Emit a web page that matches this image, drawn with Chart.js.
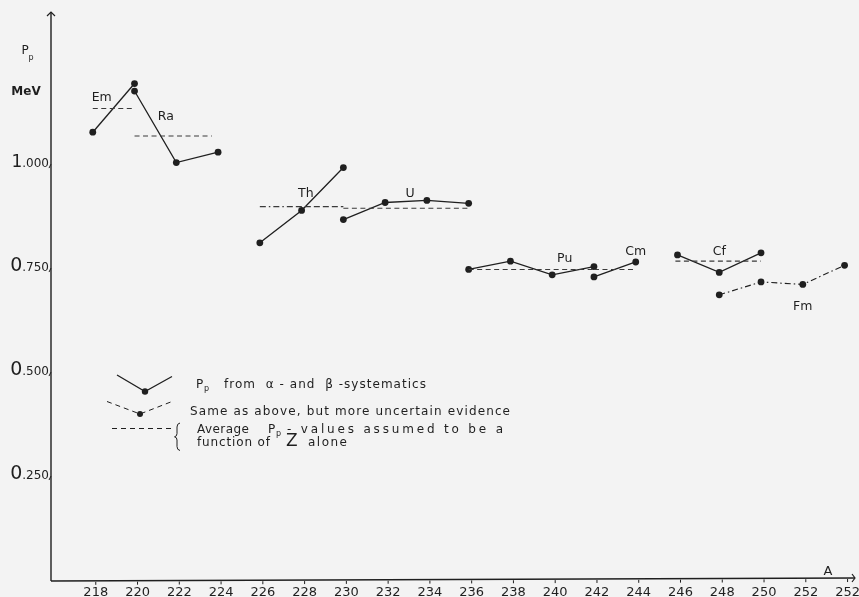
<!DOCTYPE html>
<html>
<head>
<meta charset="utf-8">
<script src="https://cdn.jsdelivr.net/npm/chart.js@4/dist/chart.umd.min.js"></script>
<style>
  html, body { margin: 0; padding: 0; background: #f3f3f3; }
  canvas { display: block; }
</style>
</head>
<body>
<canvas id="chart" width="859" height="597"></canvas>
<script>
// Pairing energy P_p (MeV) against mass number A

// Measured values, from alpha- and beta-systematics (solid lines)
const emA = [218, 220];            const emP = [1.079, 1.196];
const raA = [220, 222, 224];       const raP = [1.178, 1.006, 1.031];
const thA = [226, 228, 230];       const thP = [0.813, 0.891, 0.994];
const uA  = [230, 232, 234, 236];  const uP  = [0.869, 0.910, 0.915, 0.908];
const puA = [236, 238, 240, 242];  const puP = [0.749, 0.769, 0.736, 0.756];
const cmA = [242, 244];            const cmP = [0.731, 0.767];
const cfA = [246, 248, 250];       const cfP = [0.784, 0.742, 0.789];

// More uncertain evidence (dash-dot line)
const fmA = [248, 250, 252, 254];  const fmP = [0.688, 0.719, 0.713, 0.759];

// Average P_p for each element (dashed lines)
const emAvgA = [218, 220];   const emAvgP = [1.136, 1.136];
const raAvgA = [220, 223.7]; const raAvgP = [1.070, 1.070];
const thAvgA = [226, 230];   const thAvgP = [0.900, 0.900];
const uAvgA  = [230, 236];   const uAvgP  = [0.896, 0.896];
const puAvgA = [236, 242];   const puAvgP = [0.749, 0.749];
const cmAvgA = [242, 244];   const cmAvgP = [0.749, 0.749];
const cfAvgA = [245.9, 250]; const cfAvgP = [0.769, 0.769];

// Axis ticks
const xTickValues = [218, 220, 222, 224, 226, 228, 230, 232, 234, 236, 238, 240, 242, 244, 246, 248, 250, 252, 254];
const xTickLabels = ['218', '220', '222', '224', '226', '228', '230', '232', '234', '236', '238', '240', '242', '244', '246', '248', '250', '252', '252'];
const yTickValues = [0.25, 0.5, 0.75, 1.0];
const yTickLabels = ['0.250', '0.500', '0.750', '1.000'];

// Element names, placed in data units (A, P_p)
const elementNames = ['Em', 'Ra', 'Th', 'U', 'Pu', 'Cm', 'Cf', 'Fm'];
const elementNameA = [218.43, 221.5, 228.2, 233.2, 240.6, 244.0, 248.0, 252.0];
const elementNameP = [1.164, 1.118, 0.934, 0.933, 0.776, 0.794, 0.793, 0.662];

const INK = '#1f1f1f';
const pts = (a, p) => a.map((x, i) => ({ x: x, y: p[i] }));

function solid(a, p) {
  return { data: pts(a, p), borderColor: INK, backgroundColor: INK, borderWidth: 1.3,
           pointRadius: 3.4, pointBorderWidth: 0, pointBackgroundColor: INK, tension: 0 };
}
function uncertain(a, p) {
  return { data: pts(a, p), borderColor: INK, backgroundColor: INK, borderWidth: 1.1,
           borderDash: [6, 3, 1.5, 3], pointRadius: 3.4, pointBorderWidth: 0,
           pointBackgroundColor: INK, tension: 0 };
}
function average(a, p) {
  return { data: pts(a, p), borderColor: '#3a3a3a', borderWidth: 1.1, borderDash: [5, 3.5],
           pointRadius: 0, tension: 0 };
}

const datasets = [
  average(emAvgA, emAvgP), average(raAvgA, raAvgP), average(thAvgA, thAvgP),
  average(uAvgA, uAvgP), average(puAvgA, puAvgP), average(cmAvgA, cmAvgP),
  average(cfAvgA, cfAvgP),
  solid(emA, emP), solid(raA, raP), solid(thA, thP), solid(uA, uP),
  solid(puA, puP), solid(cmA, cmP), solid(cfA, cfP),
  uncertain(fmA, fmP)
];
// the thorium average starts with a dash-dot stretch
datasets[2].borderDash = [6, 3, 1.5, 3, 6, 3, 1.5, 3, 6, 3, 6, 3, 6, 3, 6, 3, 6, 3, 6, 3, 6, 3, 6, 3, 6, 3, 6, 3, 6, 3];

function fitText(ctx, txt, x, y, w) {
  ctx.letterSpacing = '0px';
  const m = ctx.measureText(txt).width;
  const ls = txt.length > 1 ? (w - m) / (txt.length - 1) : 0;
  ctx.letterSpacing = ls + 'px';
  ctx.fillText(txt, x, y);
  ctx.letterSpacing = '0px';
}

const paperPlugin = {
  id: 'paper',
  beforeDraw(chart) {
    const ctx = chart.ctx;
    ctx.save();
    ctx.fillStyle = '#f3f3f3';
    ctx.fillRect(0, 0, chart.width, chart.height);
    ctx.restore();
  },
  afterDraw(chart) {
    const ctx = chart.ctx;
    const xs = chart.scales.x, ys = chart.scales.y;
    const area = chart.chartArea;
    const x0 = area.left, y0 = ys.getPixelForValue(0);
    ctx.save();
    ctx.strokeStyle = INK;
    ctx.fillStyle = INK;
    ctx.lineWidth = 1.4;

    // axes with arrow heads
    ctx.beginPath();
    ctx.moveTo(x0, y0); ctx.lineTo(x0, area.top);
    ctx.moveTo(x0, y0); ctx.lineTo(area.right, y0 - 3);
    ctx.stroke();
    ctx.lineWidth = 1.2;
    ctx.beginPath();
    ctx.moveTo(x0 - 4, area.top + 4); ctx.lineTo(x0, area.top); ctx.lineTo(x0 + 4, area.top + 4);
    ctx.moveTo(area.right - 3, y0 - 7); ctx.lineTo(area.right, y0 - 3); ctx.lineTo(area.right - 3, y0 + 1);
    ctx.stroke();

    // y ticks: large leading digit, smaller decimals
    ctx.textBaseline = 'alphabetic';
    ctx.textAlign = 'left';
    yTickValues.forEach((v, i) => {
      const py = ys.getPixelForValue(v);
      const lab = yTickLabels[i];
      const head = lab.charAt(0), rest = lab.slice(1);
      ctx.font = '12px "DejaVu Sans"';
      const wr = ctx.measureText(rest).width;
      ctx.font = (head === '1' ? '17px' : '19px') + ' "DejaVu Sans"';
      const wh = ctx.measureText(head).width;
      const right = x0 - 2;
      ctx.fillText(head, right - wr - wh, py + 2);
      ctx.font = '12px "DejaVu Sans"';
      ctx.fillText(rest, right - wr, py + 2);
      ctx.lineWidth = 1;
      ctx.beginPath();
      ctx.moveTo(x0, py - 1); ctx.lineTo(x0 - 2, py + 3);
      ctx.stroke();
    });

    // x ticks
    ctx.font = '13px "DejaVu Sans"';
    ctx.textAlign = 'center';
    xTickValues.forEach((v, i) => {
      const px = xs.getPixelForValue(v) + 3;
      const ty = y0 - 3 * (px - x0) / (area.right - x0);
      ctx.fillRect(px - 0.5, ty + 1, 1, 3);
      ctx.fillText(xTickLabels[i], px, 596);
    });

    // axis titles
    ctx.textAlign = 'center';
    ctx.font = '12px "DejaVu Sans"';
    ctx.fillText('P', 25, 54);
    ctx.font = '8px "DejaVu Sans"';
    ctx.fillText('p', 31, 60);
    ctx.font = 'bold 12px "DejaVu Sans"';
    ctx.fillText('MeV', 26, 95);
    ctx.font = '13px "DejaVu Sans"';
    ctx.fillText('A', 828, 575);

    // element names
    ctx.font = '12.5px "DejaVu Sans"';
    elementNames.forEach((n, i) => {
      ctx.fillText(n, xs.getPixelForValue(elementNameA[i]), ys.getPixelForValue(elementNameP[i]) + 4);
    });

    // key
    ctx.lineWidth = 1.3;
    ctx.setLineDash([]);
    ctx.beginPath();
    ctx.moveTo(117, 375); ctx.lineTo(145, 391.5); ctx.lineTo(172, 376.5);
    ctx.stroke();
    ctx.beginPath(); ctx.arc(145, 391.5, 3.2, 0, Math.PI * 2); ctx.fill();

    ctx.lineWidth = 1;
    ctx.setLineDash([5, 4]);
    ctx.beginPath();
    ctx.moveTo(107, 401.5); ctx.lineTo(140, 414); ctx.lineTo(172, 401.5);
    ctx.stroke();
    ctx.setLineDash([]);
    ctx.beginPath(); ctx.arc(140, 414, 3, 0, Math.PI * 2); ctx.fill();

    ctx.setLineDash([5, 4]);
    ctx.beginPath();
    ctx.moveTo(112, 428.5); ctx.lineTo(171, 428.5);
    ctx.stroke();
    ctx.setLineDash([]);

    // brace
    ctx.lineWidth = 1;
    ctx.beginPath();
    ctx.moveTo(180, 423);
    ctx.quadraticCurveTo(177, 423.5, 177, 427);
    ctx.lineTo(177, 433.5);
    ctx.quadraticCurveTo(177, 436.5, 174.5, 436.8);
    ctx.quadraticCurveTo(177, 437.2, 177, 440);
    ctx.lineTo(177, 446.5);
    ctx.quadraticCurveTo(177, 450, 180, 450.5);
    ctx.stroke();

    ctx.textAlign = 'left';
    ctx.font = '12px "DejaVu Sans"';
    ctx.fillText('P', 196, 388);
    ctx.font = '8px "DejaVu Sans"';
    ctx.fillText('p', 204, 391);
    ctx.font = '12px "DejaVu Sans"';
    fitText(ctx, 'from  α - and  β -systematics', 224, 388, 202);
    fitText(ctx, 'Same as above, but more uncertain evidence', 190, 415, 320);
    fitText(ctx, 'Average', 197, 433, 52);
    ctx.fillText('P', 268, 433);
    ctx.font = '8px "DejaVu Sans"';
    ctx.fillText('p', 276, 436);
    ctx.font = '12px "DejaVu Sans"';
    fitText(ctx, '- values assumed to be a', 287, 433, 216);
    fitText(ctx, 'function of', 197, 446, 73);
    ctx.font = '17px "DejaVu Sans"';
    ctx.fillText('Z', 286, 446);
    ctx.font = '12px "DejaVu Sans"';
    fitText(ctx, 'alone', 308, 446, 39);

    ctx.restore();
  }
};

new Chart(document.getElementById('chart'), {
  type: 'line',
  data: { datasets: datasets },
  options: {
    responsive: false,
    animation: false,
    layout: { padding: { left: 51, right: 2, top: 12, bottom: 16 } },
    scales: {
      x: { type: 'linear', min: 216, max: 254.5, display: false },
      y: { type: 'linear', min: 0, max: 1.368, display: false }
    },
    plugins: { legend: { display: false }, tooltip: { enabled: false } }
  },
  plugins: [paperPlugin]
});
</script>
</body>
</html>
